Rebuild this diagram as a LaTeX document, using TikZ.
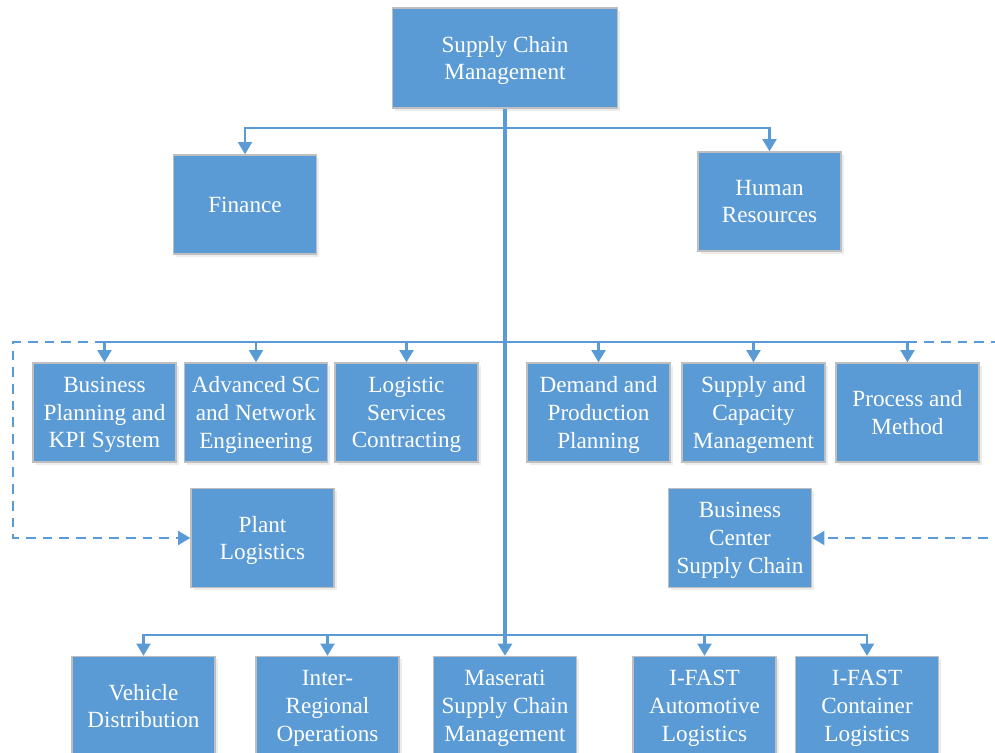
\documentclass[tikz,border=0pt]{standalone}
\usepackage{fontspec}
\setmainfont{Liberation Serif}
\usepackage{xcolor}
\definecolor{scmblue}{RGB}{91,155,213}
\definecolor{scmgray}{RGB}{191,191,191}
\usepackage{tikz}
\usetikzlibrary{arrows.meta, positioning, shadows}

\begin{document}
\begin{tikzpicture}[x=0.02cm, y=-0.02cm,
  unit/.style={draw=scmgray, fill=scmblue, line width=0.8pt, text=white, align=center,
    minimum width=2.86cm, minimum height=1.98cm, inner sep=0pt, text depth=0pt,
    font=\fontsize{13.2}{15.8}\selectfont,
    drop shadow={shadow xshift=1.5pt, shadow yshift=-1.5pt, opacity=0.12, fill=black!60}},
  wide/.style={unit, minimum width=4.5cm, minimum height=2cm},
  link/.style={draw=scmblue, line width=1.3pt, -{Triangle[width=8pt,length=7pt]}},
  dashlink/.style={link, dash pattern=on 5.5pt off 4pt}]
  \useasboundingbox (0,0) rectangle (995,753);
  \clip (0,0) rectangle (995,753);

  % --- Top level ---
  \node[wide] (scm) at (505,58) {Supply Chain\\Management};
  \node[unit] (fin) at (245,204.5) {Finance};
  \node[unit] (hr) at (769.5,201.5) {Human\\Resources};

  % --- Second level ---
  \node[unit] (bpk)  at (104.5,412.5) {Business\\Planning and\\KPI System};
  \node[unit] (asc)  at (256,412.5)   {Advanced SC\\and Network\\Engineering};
  \node[unit] (lsc)  at (406.5,412.5) {Logistic\\Services\\Contracting};
  \node[unit] (dpp)  at (598.5,412.5) {Demand and\\Production\\Planning};
  \node[unit] (scap) at (753.5,412.5) {Supply and\\Capacity\\Management};
  \node[unit] (pm)   at (907.5,412.5) {Process and\\Method};
  \node[unit] (plant) at (262.5,538)  {Plant\\Logistics};
  \node[unit] (bcsc)  at (740,538)    {Business\\Center\\Supply Chain};

  % --- Third level ---
  \node[unit] (veh)  at (143.5,706) {Vehicle\\Distribution};
  \node[unit] (ireg) at (327.5,706) {Inter-\\Regional\\Operations};
  \node[unit] (mas)  at (505,706)   {Maserati\\Supply Chain\\Management};
  \node[unit] (ifa)  at (704.5,706) {I-FAST\\Automotive\\Logistics};
  \node[unit] (ifc)  at (867,706)   {I-FAST\\Container\\Logistics};

  % --- Connectors ---
  \coordinate (hub1) at (505,128);
  \coordinate (hub2) at (505,342);
  \coordinate (hub3) at (505,635);
  \coordinate (dl) at (13,342);
  \coordinate (dr) at (1000,342);

  \draw[link, line width=1.8pt] (scm) -- (mas);
  \draw[link] (hub1) -| (fin);
  \draw[link] (hub1) -| (hr);

  \draw[link] (hub2) -| (bpk);
  \draw[link] (hub2) -| (asc);
  \draw[link] (hub2) -| (lsc);
  \draw[link] (hub2) -| (dpp);
  \draw[link] (hub2) -| (scap);
  \draw[link] (hub2) -| (pm);
  \draw[dashlink] (hub2 -| bpk) -- (dl) |- (plant);
  \draw[dashlink] (hub2 -| pm) -- (dr) |- (bcsc);

  \draw[link] (hub3) -| (veh);
  \draw[link] (hub3) -| (ireg);
  \draw[link] (hub3) -| (ifa);
  \draw[link] (hub3) -| (ifc);
\end{tikzpicture}
\end{document}
